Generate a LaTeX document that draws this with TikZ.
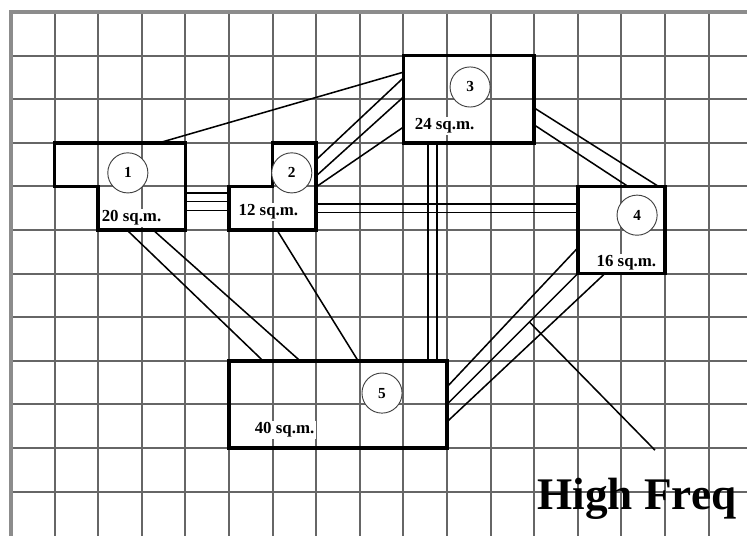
\documentclass[tikz,border=0pt]{standalone}
\usepackage{fontspec}
\setmainfont{Liberation Serif}
\tikzstyle{gridline}=[black!60, line width=1.3pt]
\tikzstyle{border}=[black!45, line width=2.6pt]
\tikzstyle{room}=[rectangle, minimum height=2cm, inner sep=0pt, outer sep=0pt]
\tikzstyle{wall}=[line width=2.4pt, line join=miter]
\tikzstyle{bubble}=[circle, draw=black!75, fill=white, line width=0.6pt, minimum size=0.92cm,
  inner sep=0pt, font=\fontsize{10}{10}\selectfont\bfseries]
\tikzstyle{area}=[anchor=west, fill=white, inner sep=1pt, font=\fontsize{11}{12}\selectfont\bfseries]
\tikzstyle{link}=[line width=1pt]

\begin{document}
\begin{tikzpicture}[x=1cm, y=-1cm]
\clip (-0.252,-0.275) rectangle (16.881,11.996);
% grid paper
\foreach \i in {1,...,16}
  \draw[gridline] (\i,0)--(\i,12.2);
\foreach \j in {1,...,11}
  \draw[gridline] (0,\j)--(17,\j);
\draw[border] (0,12.2)--(0,0)--(17,0);
% rooms
\node[room, minimum width=3cm] (r1) at (2.5,4) {};
\node[room, minimum width=2cm] (r2) at (6,4) {};
\node[room, minimum width=3cm, draw, wall] (r3) at (10.5,2) {};
\node[room, minimum width=2cm, draw, wall] (r4) at (14,5) {};
\node[room, minimum width=5cm, draw, wall] (r5) at (7.5,9) {};
\draw[wall] (r1.north west) -- (r1.north east) -- (r1.south east)
  -- ([xshift=1cm]r1.south west) |- (r1.west) -- cycle;
\draw[wall] (r2.west) -| ([xshift=1cm]r2.north west) -- (r2.north east)
  -- (r2.south east) -- (r2.south west) -- cycle;
% links between rooms
\draw[link] (r1.north -| 3.4,0) -- (r3.west |- 0,1.38);
\foreach \y in {4.15,4.35,4.55}
  \draw[link] (r1.east |- 0,\y) -- (r2.west |- 0,\y);
\draw[link] (r2.east |- 0,3.39) -- (r3.west |- 0,1.51);
\draw[link] (r2.east |- 0,3.76) -- (r3.west |- 0,1.95);
\draw[link] (r2.east |- 0,4.01) -- (r3.west |- 0,2.64);
\foreach \y in {4.40,4.60}
  \draw[link] (r2.east |- 0,\y) -- (r4.west |- 0,\y);
\foreach \x in {9.56,9.77}
  \draw[link] (r3.south -| \x,0) -- (r5.north -| \x,0);
\draw[link] (r3.east |- 0,2.20) -- (r4.north -| 14.85,0);
\draw[link] (r3.east |- 0,2.59) -- (r4.north -| 14.15,0);
\draw[link] (r1.south -| 2.66,0) -- (r5.north -| 5.78,0);
\draw[link] (r1.south -| 3.26,0) -- (r5.north -| 6.63,0);
\draw[link] (r2.south -| 6.10,0) -- (r5.north -| 7.96,0);
\draw[link] (r4.west |- 0,5.41) -- (r5.east |- 0,8.60);
\draw[link] (r4.south west) -- coordinate[pos=0.37] (busy) (r5.east |- 0,9.00);
\draw[link] (r4.south -| 13.62,0) -- (r5.east |- 0,9.40);
% bubbles and areas
\node[bubble] (n1) at (2.68,3.69) {1};
\node[bubble] (n2) at (6.44,3.69) {2};
\node[bubble] (n3) at (10.53,1.72) {3};
\node[bubble] (n4) at (14.36,4.66) {4};
\node[bubble] (n5) at (8.51,8.74) {5};
\node[area] (a1) at (2.04,4.72) {20 sq.m.};
\node[area] (a2) at (5.18,4.59) {12 sq.m.};
\node[area] (a3) at (9.22,2.61) {24 sq.m.};
\node[area] (a4) at (13.39,5.76) {16 sq.m.};
\node[area] (a5) at (5.55,9.59) {40 sq.m.};
% callout
\coordinate (tip) at (14.77,10.05);
\draw[link] (busy) -- (tip);
\node[anchor=base west, inner sep=0pt, font=\fontsize{29.5}{30}\selectfont\bfseries] (hf) at (12.07,11.42) {High Freq};
\end{tikzpicture}
\end{document}
